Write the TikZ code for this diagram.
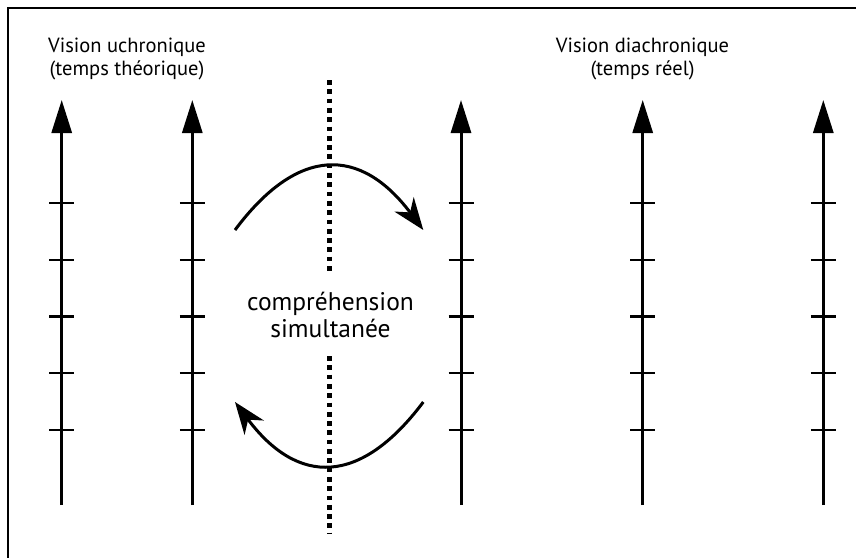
\documentclass[tikz,border=0pt]{standalone}
\usepackage{fontspec}
\setmainfont{PT Sans}
\usetikzlibrary{arrows.meta}
\begin{document}
\begin{tikzpicture}[x=1pt,y=-1pt,
  axisline/.style={line width=3pt,-{Triangle[length=33pt,width=20pt]}},
  tickmark/.style={line width=2.4pt},
  flow/.style={line width=3pt,-{Stealth[length=32pt,width=24pt,inset=10pt]}},
  sepline/.style={line width=4.7pt,dash pattern=on 4.7pt off 4.6pt},
  head/.style={font=\fontsize{20.5}{23}\selectfont,align=center,inner sep=0pt},
  mid/.style={font=\fontsize{25.5}{27}\selectfont,align=center,inner sep=0pt}]
\useasboundingbox (0,0) rectangle (856,557);
\coordinate (fb) at (8,560);
\coordinate (fc) at (8,8);
\coordinate (fr) at (860,8);
\draw[line width=2pt] (fb) -- (fc) -- (fr);
% axes
\foreach \x/\n in {61.7/a,192.3/b,461/c,642.7/d,823.3/e}{
  \coordinate (\n0) at (\x,505);
  \coordinate (\n1) at (\x,100);
  \draw[axisline] (\n0) -- (\n1);
  \foreach \y in {203,259.7,316.3,373,429.7}
    \draw[tickmark] (\x-12.5,\y) -- (\x+12.5,\y);
}
% separator
\coordinate (s0) at (329.5,80);
\coordinate (s1) at (329.5,272);
\coordinate (s2) at (329.5,356);
\coordinate (s3) at (329.5,533);
\draw[sepline] (s0) -- (s1);
\draw[sepline] (s2) -- (s3);
% arcs
\coordinate (ua) at (235,230);
\coordinate (ub) at (423.3,230);
\draw[flow] (ua) .. controls (297.7,146) and (360.3,146) .. (ub);
\coordinate (la) at (423.3,402);
\coordinate (lb) at (235,402);
\draw[flow] (la) .. controls (360.3,486) and (297.7,486) .. (lb);
% texts
\node[mid] (txt) at (330.5,315) {compréhension\\simultanée};
\node[head] (h1) at (127,58.5) {Vision uchronique\\(temps théorique)};
\node[head] (h2) at (642.5,58.5) {Vision diachronique\\(temps réel)};
\end{tikzpicture}
\end{document}
